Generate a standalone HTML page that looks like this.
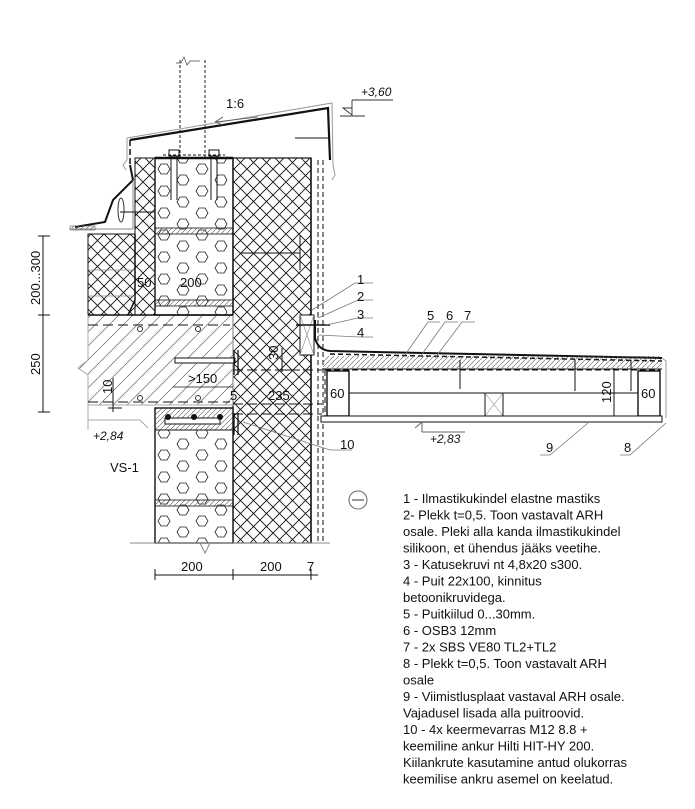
<!DOCTYPE html>
<html><head><meta charset="utf-8"><style>
html,body{margin:0;padding:0;background:#fff}
svg{display:block}
.t{font-family:"Liberation Sans",sans-serif;fill:#111}
</style></head><body>
<svg width="695" height="809" viewBox="0 0 695 809" xmlns="http://www.w3.org/2000/svg">
<defs>
<pattern id="cross" width="13" height="13" patternUnits="userSpaceOnUse">
<path d="M0,0L13,13M13,0L0,13" stroke="#111" stroke-width="0.9"/>
</pattern>
<pattern id="hex" width="38" height="22" patternUnits="userSpaceOnUse" x="155" y="160">
<path d="M6,4 h6 l3,5 l-3,5 h-6 l-3,-5z" fill="none" stroke="#222" stroke-width="0.8"/>
<path d="M25,15 h6 l3,5 l-3,5 h-6 l-3,-5z M25,-7 h6 l3,5 l-3,5 h-6 l-3,-5z" fill="none" stroke="#222" stroke-width="0.8"/>
</pattern>
<pattern id="conc" width="14" height="14" patternUnits="userSpaceOnUse">
<path d="M0,14L14,0" stroke="#666" stroke-width="0.7"/>
</pattern>
<pattern id="hatch" width="5" height="5" patternUnits="userSpaceOnUse">
<path d="M0,5L5,0" stroke="#555" stroke-width="0.6"/>
</pattern>
</defs>

<path d="M180,60V158M205,60V158" stroke="#222" stroke-dasharray="3,2" fill="none"/>
<path d="M176,63l5,0 3,-6 3,8 3,-4 h10" stroke="#444" fill="none" stroke-width="0.7"/>

<path d="M130,140 L328,108 L330,160" fill="none" stroke="#111" stroke-width="2.2"/>
<path d="M127,138 L332,103 L333,165 M333,165 l2,10 l-3,5" fill="none" stroke="#999" stroke-width="1"/>
<path d="M130,140 V165" stroke="#111" stroke-width="1.5" stroke-dasharray="6,3"/>
<path d="M127,138 V160 l-4,5 l3,5" stroke="#999" fill="none"/>
<path d="M295,138 H330" stroke="#111"/>
<text class="t" x="226" y="108" font-size="13">1:6</text>
<path d="M215,122 L258,117 M215,122 l8,-5 M215,122 l8,3" stroke="#555" fill="none" stroke-width="0.8"/>
<text class="t" x="361" y="96" font-size="12" font-style="italic">+3,60</text>
<path d="M352,100 H393 M352,100 V115 M343,108 l9,7 l0,-7z M340,116 H365" stroke="#333" fill="none" stroke-width="0.9"/>

<rect x="135" y="158" width="20" height="157" fill="url(#cross)" stroke="#111"/>
<rect x="155" y="158" width="78" height="157" fill="#fff" stroke="#111" stroke-width="1.4"/>
<rect x="155" y="158" width="78" height="157" fill="url(#hex)"/>
<rect x="155" y="228" width="78" height="6" fill="url(#hatch)" stroke="#111" stroke-width="0.8"/>
<rect x="155" y="300" width="78" height="6" fill="url(#hatch)" stroke="#111" stroke-width="0.8"/>
<path d="M155,158H233" stroke="#111" stroke-width="2.5"/>
<path d="M171,150V200M177,150V200M211,150V200M217,150V200" stroke="#111" stroke-width="1"/>
<rect x="169" y="150" width="10" height="6" fill="#fff" stroke="#111"/>
<rect x="209" y="150" width="10" height="6" fill="#fff" stroke="#111"/>
<path d="M163,155H225" stroke="#111" stroke-dasharray="3,2"/>

<rect x="233" y="158" width="78" height="385" fill="url(#cross)" stroke="#111" stroke-width="1.2"/>
<path d="M311,158V543" stroke="#111" stroke-width="1.5"/>
<path d="M318,160V543M323,160V543" stroke="#111" stroke-dasharray="5,3"/>
<path d="M240,253H300 M300,235V270" stroke="#111"/>

<path d="M130,165 L133,180 L113,200 L105,222 L75,227" fill="none" stroke="#111" stroke-width="2"/>
<path d="M72,229 H133 M133,229 V180" fill="none" stroke="#888" stroke-width="1"/>
<rect x="70" y="226" width="25" height="4" fill="url(#hatch)" stroke="#555" stroke-width="0.6"/>
<ellipse cx="121" cy="210" rx="3" ry="12" fill="none" stroke="#333"/>
<path d="M120,212H155" stroke="#111"/>

<path d="M88,234 H135 V315 H88z" fill="url(#cross)" stroke="#111"/>
<path d="M135,234V300 L128,315" stroke="#111" stroke-width="1.5" fill="none"/>
<path d="M88,296H135M88,270H135" stroke="#888" stroke-width="0.8"/>
<text class="t" x="137" y="287" font-size="13">50</text>
<text class="t" x="180" y="287" font-size="13">200</text>

<path d="M88,315 H233 V405 H88 V375 L78,368 L88,360z" fill="url(#conc)" stroke="#aaa"/>
<path d="M88,325 H230 M88,402 H230" stroke="#111" stroke-dasharray="10,5"/>
<path d="M88,315 H233" stroke="#111" stroke-width="1.4"/>
<circle cx="140" cy="329" r="2.5" fill="none" stroke="#333"/>
<circle cx="198" cy="329" r="2.5" fill="none" stroke="#333"/>
<circle cx="140" cy="398" r="2.5" fill="none" stroke="#333"/>
<circle cx="198" cy="398" r="2.5" fill="none" stroke="#333"/>
<rect x="175" y="358" width="60" height="5" fill="#fff" stroke="#111"/>
<path d="M234,350V375M238,350V375" stroke="#111" stroke-width="1.3"/>
<text class="t" x="188" y="383" font-size="13">&gt;150</text>
<path d="M173,387H233" stroke="#111" stroke-width="0.8"/>
<rect x="155" y="408" width="78" height="135" fill="#fff" stroke="#111" stroke-width="1.4"/>
<rect x="155" y="430" width="78" height="113" fill="url(#hex)"/>
<rect x="155" y="408" width="78" height="22" fill="url(#hatch)" stroke="#111"/>
<rect x="165" y="418" width="55" height="6" fill="#fff" stroke="#111"/>
<circle cx="168" cy="417" r="3" fill="#111"/><circle cx="194" cy="417" r="3" fill="#111"/><circle cx="220" cy="417" r="3" fill="#111"/>
<path d="M234,413V435M238,413V435" stroke="#111" stroke-width="1.3"/>
<rect x="155" y="500" width="78" height="6" fill="url(#hatch)" stroke="#111" stroke-width="0.8"/>
<path d="M130,543H330 M200,543l5,10 5,-10" stroke="#888" fill="none"/>
<path d="M88,405V420 H140 l8,8 M88,420 V430" stroke="#aaa" fill="none"/>

<path d="M43,236V412 M38,236H50 M38,315H50 M38,412H50" stroke="#111" fill="none"/>
<text class="t" font-size="13" transform="translate(40,305) rotate(-90)">200...300</text>
<text class="t" font-size="13" transform="translate(40,375) rotate(-90)">250</text>
<text class="t" font-size="13" transform="translate(112,394) rotate(-90)">10</text>
<path d="M113,378V412 M108,408H122" stroke="#111"/>
<text class="t" x="93" y="440" font-size="12" font-style="italic">+2,84</text>
<text class="t" x="110" y="472" font-size="13">VS-1</text>

<text class="t" font-size="13" transform="translate(278,360) rotate(-90)">30</text>
<path d="M282,348V372 M278,370H300" stroke="#111"/>
<path d="M233,370H322 M233,404H322 M233,414H322" stroke="#111" stroke-dasharray="10,4"/>
<text class="t" x="230" y="400" font-size="13">5</text>
<text class="t" x="268" y="400" font-size="13">235</text>

<rect x="300" y="315" width="14" height="40" fill="#fff" stroke="#111"/>
<path d="M300,315L314,355M314,315L300,355" stroke="#888" stroke-width="0.6"/>
<path d="M296,325H330" stroke="#111" stroke-width="1.5"/>
<path d="M315,320 V338 Q318,350 330,351 L662,358" fill="none" stroke="#111" stroke-width="2"/>
<path d="M330,354 L662,361" stroke="#111" stroke-width="1.5" stroke-dasharray="5,3"/>
<rect x="323" y="356" width="339" height="12" fill="url(#hatch)"/>
<path d="M323,369H662" stroke="#111"/>
<rect x="325" y="370" width="335" height="46" fill="none" stroke="#111" stroke-dasharray="6,3"/>
<rect x="327" y="371" width="22" height="45" fill="#fff" stroke="#111" stroke-width="1.4"/>
<rect x="638" y="371" width="22" height="45" fill="#fff" stroke="#111" stroke-width="1.4"/>
<path d="M349,393H638" stroke="#111"/>
<rect x="485" y="393" width="18" height="23" fill="none" stroke="#111"/>
<path d="M485,393L503,416M503,393L485,416" stroke="#888" stroke-width="0.6"/>
<path d="M460,360V389 M575,360V391 M631,360V391" stroke="#111"/>
<rect x="321" y="416" width="341" height="6" fill="#fff" stroke="#111"/>
<path d="M662,358 L666,361 V418" stroke="#999" fill="none"/>
<text class="t" x="330" y="398" font-size="13">60</text>
<text class="t" x="641" y="398" font-size="13">60</text>
<text class="t" font-size="13" transform="translate(611,403) rotate(-90)">120</text>
<path d="M614,368V416" stroke="#111"/>
<text class="t" x="430" y="443" font-size="12" font-style="italic">+2,83</text>
<path d="M422,432H465 M422,422 V432 M415,428l7,-6" stroke="#666" fill="none"/>

<g stroke="#777" stroke-width="0.8" fill="none">
<path d="M312,310 L355,283 H373"/>
<path d="M318,318 L358,300 H373"/>
<path d="M326,325 L358,318 H373"/>
<path d="M318,335 L360,337 H373"/>
<path d="M405,355 L428,322 H440"/>
<path d="M420,357 L445,322 H458"/>
<path d="M435,358 L462,322 H475"/>
<path d="M243,422 L330,450 H352"/>
<path d="M588,423 L550,455 H540"/>
<path d="M666,423 L630,455 H620"/>
</g>
<g class="t" font-size="13">
<text x="357" y="284">1</text><text x="357" y="301">2</text><text x="357" y="319">3</text><text x="357" y="337">4</text>
<text x="427" y="320">5</text><text x="446" y="320">6</text><text x="464" y="320">7</text>
<text x="340" y="449">10</text><text x="546" y="452">9</text><text x="624" y="452">8</text>
</g>
<circle cx="358" cy="500" r="9" fill="none" stroke="#666"/>
<path d="M352,500H364" stroke="#333"/>

<path d="M155,575H318 M155,569V580 M233,569V580 M311,569V580" stroke="#111" fill="none"/>
<text class="t" x="181" y="571" font-size="13">200</text>
<text class="t" x="260" y="571" font-size="13">200</text>
<text class="t" x="307" y="571" font-size="13">7</text>

<g class="t" font-size="13">
<text x="403" y="503">1 - Ilmastikukindel elastne mastiks</text>
<text x="403" y="519.5">2- Plekk t=0,5. Toon vastavalt ARH</text>
<text x="403" y="536">osale. Pleki alla kanda ilmastikukindel</text>
<text x="403" y="552.5">silikoon, et ühendus jääks veetihe.</text>
<text x="403" y="569">3 - Katusekruvi nt 4,8x20 s300.</text>
<text x="403" y="585.5">4 - Puit 22x100, kinnitus</text>
<text x="403" y="602">betoonikruvidega.</text>
<text x="403" y="618.5">5 - Puitkiilud 0...30mm.</text>
<text x="403" y="635">6 - OSB3 12mm</text>
<text x="403" y="651.5">7 - 2x SBS VE80 TL2+TL2</text>
<text x="403" y="668">8 - Plekk t=0,5. Toon vastavalt ARH</text>
<text x="403" y="684.5">osale</text>
<text x="403" y="701">9 - Viimistlusplaat vastaval ARH osale.</text>
<text x="403" y="717.5">Vajadusel lisada alla puitroovid.</text>
<text x="403" y="734">10 -  4x keermevarras M12 8.8 +</text>
<text x="403" y="750.5">keemiline ankur Hilti HIT-HY 200.</text>
<text x="403" y="767">Kiilankrute kasutamine antud olukorras</text>
<text x="403" y="783.5">keemilise ankru asemel on keelatud.</text>
</g>
</svg>
</body></html>
